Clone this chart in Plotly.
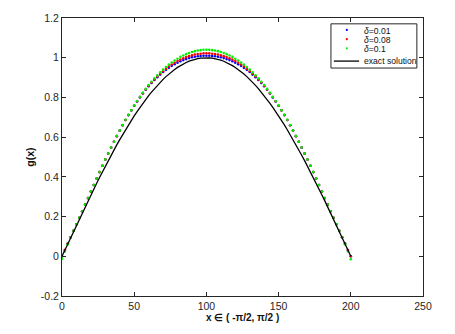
import plotly.graph_objects as go

# sample index along x in (-pi/2, pi/2), every 2nd node of 0..200
idx = list(range(0, 201, 2));

exact = [0.0, 0.0314, 0.0628, 0.0941, 0.1253, 0.1564, 0.1874, 0.2181, 0.2487, 0.2790,
         0.3090, 0.3387, 0.3681, 0.3971, 0.4258, 0.4540, 0.4818, 0.5090, 0.5358, 0.5621,
         0.5878, 0.6129, 0.6374, 0.6613, 0.6845, 0.7071, 0.7290, 0.7501, 0.7705, 0.7902,
         0.8090, 0.8271, 0.8443, 0.8607, 0.8763, 0.8910, 0.9048, 0.9178, 0.9298, 0.9409,
         0.9511, 0.9603, 0.9686, 0.9759, 0.9823, 0.9877, 0.9921, 0.9956, 0.9980, 0.9995,
         1.0,
         0.9995, 0.9980, 0.9956, 0.9921, 0.9877, 0.9823, 0.9759, 0.9686, 0.9603, 0.9511,
         0.9409, 0.9298, 0.9178, 0.9048, 0.8910, 0.8763, 0.8607, 0.8443, 0.8271, 0.8090,
         0.7902, 0.7705, 0.7501, 0.7290, 0.7071, 0.6845, 0.6613, 0.6374, 0.6129, 0.5878,
         0.5621, 0.5358, 0.5090, 0.4818, 0.4540, 0.4258, 0.3971, 0.3681, 0.3387, 0.3090,
         0.2790, 0.2487, 0.2181, 0.1874, 0.1564, 0.1253, 0.0941, 0.0628, 0.0314, 0.0];

g_001 = [0.0, 0.032, 0.064, 0.096, 0.128, 0.161, 0.194, 0.227, 0.260, 0.293,
         0.326, 0.359, 0.392, 0.424, 0.456, 0.487, 0.517, 0.547, 0.577, 0.605,
         0.633, 0.660, 0.686, 0.711, 0.735, 0.758, 0.780, 0.800, 0.820, 0.839,
         0.856, 0.873, 0.888, 0.902, 0.915, 0.928, 0.939, 0.949, 0.959, 0.967,
         0.975, 0.982, 0.988, 0.993, 0.998, 1.002, 1.005, 1.007, 1.009, 1.010,
         1.010,
         1.010, 1.009, 1.007, 1.005, 1.002, 0.998, 0.993, 0.988, 0.982, 0.975,
         0.967, 0.959, 0.949, 0.939, 0.928, 0.915, 0.902, 0.888, 0.873, 0.856,
         0.839, 0.820, 0.800, 0.780, 0.758, 0.735, 0.711, 0.686, 0.660, 0.633,
         0.605, 0.577, 0.547, 0.517, 0.487, 0.456, 0.424, 0.392, 0.359, 0.326,
         0.293, 0.260, 0.227, 0.194, 0.161, 0.128, 0.096, 0.064, 0.032, 0.0];

g_008 = [0.0, 0.032, 0.064, 0.096, 0.128, 0.161, 0.194, 0.227, 0.260, 0.293,
         0.326, 0.359, 0.392, 0.424, 0.456, 0.487, 0.517, 0.548, 0.577, 0.605,
         0.633, 0.660, 0.686, 0.711, 0.735, 0.758, 0.781, 0.802, 0.821, 0.840,
         0.858, 0.875, 0.891, 0.906, 0.920, 0.932, 0.944, 0.956, 0.966, 0.975,
         0.983, 0.991, 0.997, 1.003, 1.008, 1.012, 1.016, 1.019, 1.020, 1.022,
         1.022,
         1.022, 1.020, 1.019, 1.016, 1.012, 1.008, 1.003, 0.997, 0.991, 0.983,
         0.975, 0.966, 0.956, 0.944, 0.932, 0.920, 0.906, 0.891, 0.875, 0.858,
         0.840, 0.821, 0.802, 0.781, 0.758, 0.735, 0.711, 0.686, 0.660, 0.633,
         0.605, 0.577, 0.548, 0.517, 0.487, 0.456, 0.424, 0.392, 0.359, 0.326,
         0.293, 0.260, 0.227, 0.194, 0.161, 0.128, 0.096, 0.064, 0.032, 0.0];

g_01 = [-0.012, 0.024, 0.060, 0.094, 0.128, 0.161, 0.194, 0.227, 0.260, 0.293,
        0.326, 0.359, 0.392, 0.424, 0.456, 0.487, 0.518, 0.548, 0.577, 0.606,
        0.634, 0.661, 0.687, 0.712, 0.736, 0.760, 0.782, 0.803, 0.824, 0.843,
        0.862, 0.879, 0.896, 0.911, 0.926, 0.940, 0.953, 0.965, 0.976, 0.986,
        0.995, 1.004, 1.011, 1.018, 1.024, 1.029, 1.033, 1.036, 1.038, 1.040,
        1.040,
        1.040, 1.038, 1.036, 1.033, 1.029, 1.024, 1.018, 1.011, 1.004, 0.995,
        0.986, 0.976, 0.965, 0.953, 0.940, 0.926, 0.911, 0.896, 0.879, 0.862,
        0.843, 0.824, 0.803, 0.782, 0.760, 0.736, 0.712, 0.687, 0.661, 0.634,
        0.606, 0.577, 0.548, 0.518, 0.487, 0.456, 0.424, 0.392, 0.359, 0.326,
        0.293, 0.260, 0.227, 0.194, 0.161, 0.128, 0.094, 0.060, 0.024, -0.015];

y_ticks = [-0.2, 0, 0.2, 0.4, 0.6, 0.8, 1, 1.2];
y_labels = ["-0.2", "0", "0.2", "0.4", "0.6", "0.8", "1", "1.2"];
x_ticks = [0, 50, 100, 150, 200, 250];
x_labels = ["0", "50", "100", "150", "200", "250"];

names = ["<i>\u03b4</i>=0.01", "<i>\u03b4</i>=0.08", "<i>\u03b4</i>=0.1", "exact solution"];
colors = ["#0000FF", "#FF0000", "#00F000"];

fig = go.Figure();

for name, vals, col in zip(names, [g_001, g_008, g_01], colors):
    fig.add_trace(go.Scatter(x = idx, y = vals, mode = "markers", name = name,
                             marker = dict(size = 2.6, color = col),
                             showlegend = False));

fig.add_trace(go.Scatter(x = idx, y = exact, mode = "lines", name = names[3],
                         line = dict(color = "black", width = 1.3),
                         showlegend = False));

# hand-made compact legend box (plotly's own rows are too tall here)
fig.add_shape(type = "rect", xref = "paper", yref = "paper",
              x0 = 0.745, x1 = 0.983, y0 = 0.820, y1 = 0.979,
              line = dict(color = "#262626", width = 1), fillcolor = "white");

row_y = [0.954, 0.921, 0.888, 0.845];
for i in range(3):
    fig.add_shape(type = "circle", xref = "paper", yref = "paper",
                  xsizemode = "pixel", ysizemode = "pixel",
                  xanchor = 0.789, yanchor = row_y[i] + 0.003,
                  x0 = -1.1, x1 = 1.1, y0 = -1.1, y1 = 1.1,
                  line = dict(width = 0), fillcolor = colors[i]);

fig.add_shape(type = "line", xref = "paper", yref = "paper",
              x0 = 0.753, x1 = 0.823, y0 = row_y[3], y1 = row_y[3],
              line = dict(color = "black", width = 1.3));

for i in range(4):
    fig.add_annotation(x = 0.830, y = row_y[i], xref = "paper", yref = "paper",
                       text = names[i], showarrow = False,
                       xanchor = "left", yanchor = "middle",
                       font = dict(size = 8.6, color = "#111"));

# x label placed by hand, just under the tick labels
fig.add_annotation(x = 0.5, y = -0.078, xref = "paper", yref = "paper",
                   text = "<b>x \u2208 ( -\u03c0/2, \u03c0/2 )</b>", showarrow = False,
                   xanchor = "center", yanchor = "middle",
                   font = dict(size = 10, color = "#111"));

fig.update_xaxes(range = [0, 250],
                 tickvals = x_ticks, ticktext = x_labels,
                 ticks = "inside", ticklen = 4, tickcolor = "#262626",
                 showline = True, linecolor = "#262626", linewidth = 1,
                 mirror = "ticks", showgrid = False, zeroline = False,
                 ticklabeloverflow = "allow",
                 tickfont = dict(size = 10.5, color = "#262626"));

fig.update_yaxes(range = [-0.2, 1.2],
                 tickvals = y_ticks, ticktext = y_labels,
                 ticks = "inside", ticklen = 4, tickcolor = "#262626",
                 showline = True, linecolor = "#262626", linewidth = 1,
                 mirror = "ticks", showgrid = False, zeroline = False,
                 ticklabeloverflow = "allow",
                 title = dict(text = "<b>g(x)</b>", standoff = 4,
                              font = dict(size = 10.5, color = "#111")),
                 tickfont = dict(size = 10.5, color = "#262626"));

# page body adds an 8px offset, so the figure is 8px smaller than the window
fig.update_layout(width = 447, height = 326,
                  margin = dict(l = 54, r = 32, t = 4, b = 38),
                  plot_bgcolor = "white", paper_bgcolor = "white",
                  font = dict(family = "Liberation Sans, Arial, sans-serif"),
                  showlegend = False);

fig.write_html("out.html");
